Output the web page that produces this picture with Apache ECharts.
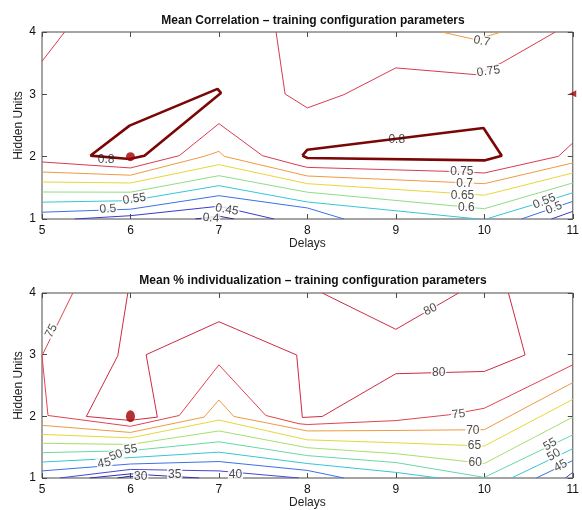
<!DOCTYPE html>
<html><head><meta charset="utf-8">
<script src="https://cdn.jsdelivr.net/npm/echarts@6/dist/echarts.min.js"></script>
<style>html,body{margin:0;padding:0;background:#fff}#c{width:582px;height:510px}</style>
</head><body><div id="c"></div>
<script>
// ---- axis ticks ----
const delayTicks = [5, 6, 7, 8, 9, 10, 11];
const hiddenTicks = [1, 2, 3, 4];

// ---- Mean Correlation: contour polylines [delay, hidden units] per level ----
const corrLevels = [0.4, 0.45, 0.5, 0.55, 0.6, 0.65, 0.7, 0.75, 0.8];
const corr040 = [[[6.733,1.0],[7,1.045],[7.172,1.0]]];
const corr045 = [[[5.369,1.0],[6,1.053],[7,1.205],[7.624,1.0]], [[10.758,1.0],[11,1.122]]];
const corr050 = [[[5,1.109],[6,1.157],[7,1.374],[8,1.177],[8.413,1.0]], [[10.419,1.0],[11,1.283]]];
const corr055 = [[[5,1.270],[6,1.294],[7,1.535],[8,1.273],[9.935,1.0]], [[10.02,1.0],[11,1.42]]];
const corr060 = [[[5,1.433],[6,1.430],[7,1.695],[8,1.430],[10,1.165],[11,1.578]]];
const corr065 = [[[5,1.594],[6,1.578],[7,1.872],[8,1.567],[10,1.382],[11,1.738]]];
const corr070 = [[[5,1.754],[6,1.703],[6.834,2.005],[7,2.085],[7.06,2.005],[8,1.690],[10,1.567],[11,1.899]],
                 [[9.517,4],[9.901,3.878],[10.194,4]]];
const corr075 = [[[5,1.915],[6,1.819],[6.552,2.016],[7,2.530],[7.492,2.016],[7.905,1.860],[8,1.828],[9.596,1.764],[10,1.738],[10.837,2.005],[11,2.220]],
                 [[7.646,4],[7.748,3.006],[8,2.782],[8.413,2.995],[9,3.424],[9.901,3.316],[10.194,3.504],[10.803,4]],
                 [[5,3.530],[5.256,4]]];
const corr080 = [[[5.546,2.016],[5.99,2.498],[6.984,3.087],[7.023,3.022],[6.158,2.016],[5.99,1.963],[5.546,2.016]],
                 [[7.943,2.016],[8,2.112],[9.991,2.461],[10.197,2.016],[10.01,1.941],[8,1.979],[7.943,2.016]]];
const corrPeakDots = [[6, 2.0]];
const corrEdgeMarks = [[11, 3.011]];
const corrLabels = [[5.725,1.951,'0.8'],[9.010,2.273,'0.8'],[9.972,3.851,'0.7'],[10.047,3.369,'0.75'],
  [9.746,1.754,'0.75'],[9.777,1.567,'0.7'],[9.754,1.374,'0.65'],[9.796,1.177,'0.6'],
  [10.679,1.283,'0.55'],[10.787,1.177,'0.5'],[6.045,1.321,'0.55'],[5.744,1.161,'0.5'],
  [7.090,1.149,'0.45'],[6.910,1.016,'0.4']];

// ---- Mean % individualization ----
const indivLevels = [30, 35, 40, 45, 50, 55, 60, 65, 70, 75, 80];
const indiv30 = [[[5.854,1.0],[6,1.030],[6.10,1.0]]];
const indiv35 = [[[5.538,1.0],[6,1.067],[6.778,1.0]]];
const indiv40 = [[[5.2,1.0],[6,1.139],[7,1.115],[7.905,1.0]], [[10.917,1.0],[11,1.091]]];
const indiv45 = [[[5,1.115],[6,1.227],[7,1.267],[8,1.123],[8.413,1.0]], [[10.588,1.0],[11,1.283]]];
const indiv50 = [[[5,1.259],[6,1.331],[7,1.419],[8,1.235],[9,1.091],[9.484,1.0]], [[10.307,1.0],[11,1.475]]];
const indiv55 = [[[5,1.411],[6,1.443],[7,1.587],[8,1.363],[9,1.251],[10,1.01],[11,1.699]]];
const indiv60 = [[[5,1.563],[6,1.544],[7,1.763],[8,1.491],[9,1.395],[10,1.235],[11,1.987]]];
const indiv65 = [[[5,1.707],[6,1.651],[7,1.939],[8,1.619],[9,1.571],[10,1.518],[11,2.275]]];
const indiv70 = [[[5,1.854],[6,1.739],[6.831,1.987],[7,2.264],[7.169,1.998],[8,1.763],[9,1.771],[10,1.784],[11,2.547]]];
const indiv75 = [[[5.349,4],[5,2.984],[5.068,2.014],[6,1.838],[6.552,2.014],[7,2.835],[7.530,2.014],[7.905,1.88],[8,1.867],[9,1.931],[9.596,2.024],[10,2.131],[11,2.835]]];
const indiv80 = [[[5.970,4],[5.857,2.984],[5.501,1.998],[5.99,1.934],[6.304,1.987],[6.177,3.0],[7,3.534],[7.879,2.995],[7.943,1.982],[8.168,1.998],[9,2.691],[10,2.728],[10.461,2.995],[10.273,4]],
                 [[8.168,4],[9,3.411],[9.709,4]]];
const indivPeakDots = [[6, 2.003]];
const indivLabels = [[5.106,3.384,'75'],[9.390,3.731,'80'],[9.484,2.702,'80'],[9.709,2.035,'75'],
  [9.870,1.774,'70'],[9.889,1.518,'65'],[9.897,1.251,'60'],[10.743,1.544,'55'],[10.787,1.374,'50'],
  [10.863,1.198,'45'],[6.003,1.464,'55'],[5.834,1.368,'50'],[5.703,1.240,'45'],
  [6.116,1.027,'30'],[6.5,1.054,'35'],[7.187,1.054,'40']];

// ---- styles ----
const corrLabelAngles = [0,0,-10,8,0,0,0,0,22,22,8,4,-10,-4];
const indivLabelAngles = [62,25,0,6,0,0,0,30,30,30,8,20,12,0,0,0];
const corrSets = [corr040,corr045,corr050,corr055,corr060,corr065,corr070,corr075,corr080];
const corrColors = ['#2a2a95','#3a3ad0','#3b72e6','#35c6d8','#8ede86','#e6d83a','#f09a40','#d63c50','#7a0606'];
const indivSets = [indiv30,indiv35,indiv40,indiv45,indiv50,indiv55,indiv60,indiv65,indiv70,indiv75,indiv80];
const indivColors = ['#262685','#2f2fb0','#4646d6','#3b72e6','#35c6d8','#66d8a8','#a6e070','#e6d83a','#f09a40','#e04450','#cc2c44'];

const FONT = 'Liberation Sans, Arial, Helvetica, sans-serif';
const series = [];
function addContours(sets, colors, gi, thickLast) {
  sets.forEach((set, li) => {
    set.forEach(poly => {
      series.push({
        type: 'line', xAxisIndex: gi, yAxisIndex: gi, data: poly, symbol: 'none',
        silent: true, animation: false, z: 3,
        lineStyle: { color: colors[li], width: (thickLast && li === sets.length - 1) ? 2.6 : 1 }
      });
    });
  });
}
function addLabels(labels, angles, gi, plainTexts) {
  series.push({
    type: 'scatter', xAxisIndex: gi, yAxisIndex: gi, symbolSize: 0, z: 10, animation: false, silent: true,
    data: labels.map((l, i) => {
      const plain = plainTexts.includes(l[2]);
      return {
        value: [l[0], l[1]], name: l[2],
        label: { rotate: angles[i], backgroundColor: plain ? 'transparent' : '#fff' }
      };
    }),
    label: { show: true, position: 'inside', formatter: p => p.name, color: '#1a1a1a',
      fontSize: 12, fontFamily: FONT, padding: [0, 1] }
  });
}
addContours(corrSets, corrColors, 0, true);
addContours(indivSets, indivColors, 1, false);
addLabels(corrLabels, corrLabelAngles, 0, ['0.8']);
addLabels(indivLabels, indivLabelAngles, 1, []);
series.push({ type: 'scatter', xAxisIndex: 0, yAxisIndex: 0, data: corrPeakDots, symbol: 'circle',
  symbolSize: 9, itemStyle: { color: '#a00000' }, z: 6, animation: false });
series.push({ type: 'scatter', xAxisIndex: 0, yAxisIndex: 0, data: corrEdgeMarks, symbol: 'triangle',
  symbolRotate: 90, symbolSize: 7, itemStyle: { color: '#a00000' }, z: 6, animation: false });
series.push({ type: 'scatter', xAxisIndex: 1, yAxisIndex: 1, data: indivPeakDots, symbol: 'circle',
  symbolSize: [9, 12], itemStyle: { color: '#a00000' }, z: 6, animation: false });

const grids = [
  { left: 42, top: 32, width: 532, height: 187 },
  { left: 42, top: 293, width: 532, height: 188 }
].map(g => Object.assign(g, { show: true, borderColor: '#4a4a4a', borderWidth: 1, backgroundColor: '#fff' }));

function xAx(gi, pos, labels) {
  return { type: 'value', gridIndex: gi, position: pos, min: delayTicks[0], max: delayTicks[delayTicks.length-1], interval: 1,
    name: labels ? 'Delays' : '', nameLocation: 'middle', nameGap: 19, nameMoveOverlap: false,
    nameTextStyle: { fontSize: 12, fontFamily: FONT, color: '#222' },
    axisLine: { show: false }, splitLine: { show: false },
    axisTick: { show: true, inside: true, length: 5, lineStyle: { color: '#4a4a4a' } },
    axisLabel: { show: labels, margin: 6, fontSize: 12, fontFamily: FONT, color: '#111' } };
}
function yAx(gi, pos, labels) {
  return { type: 'value', gridIndex: gi, position: pos, min: hiddenTicks[0], max: hiddenTicks[hiddenTicks.length-1], interval: 1,
    name: labels ? 'Hidden Units' : '', nameLocation: 'middle', nameGap: 17, nameMoveOverlap: false,
    nameTextStyle: { fontSize: 12, fontFamily: FONT, color: '#222' },
    axisLine: { show: false }, splitLine: { show: false },
    axisTick: { show: true, inside: true, length: 5, lineStyle: { color: '#4a4a4a' } },
    axisLabel: { show: labels, margin: 6, fontSize: 12, fontFamily: FONT, color: '#111' } };
}

const chart = echarts.init(document.getElementById('c'), null, { renderer: 'canvas' });
chart.setOption({
  animation: false,
  backgroundColor: '#fff',
  title: [
    { text: 'Mean Correlation \u2013 training configuration parameters', left: 308, top: 10, textAlign: 'center',
      textStyle: { fontSize: 12, fontWeight: 'bold', fontFamily: FONT, color: '#111' } },
    { text: 'Mean % individualization \u2013 training configuration parameters', left: 308, top: 270, textAlign: 'center',
      textStyle: { fontSize: 12, fontWeight: 'bold', fontFamily: FONT, color: '#111' } }
  ],
  grid: grids,
  xAxis: [xAx(0, 'bottom', true), xAx(1, 'bottom', true), xAx(0, 'top', false), xAx(1, 'top', false)],
  yAxis: [yAx(0, 'left', true), yAx(1, 'left', true), yAx(0, 'right', false), yAx(1, 'right', false)],
  series: series
});
</script>
</body></html>
